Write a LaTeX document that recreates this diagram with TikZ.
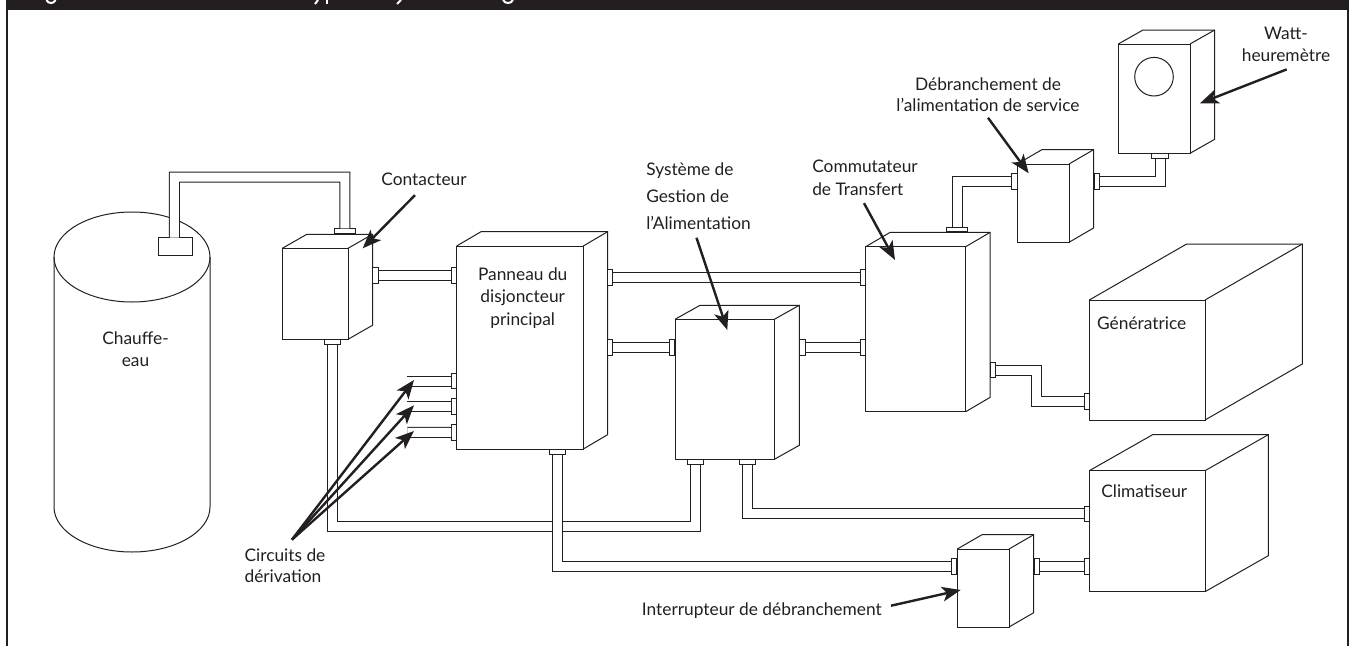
\documentclass[tikz,border=0pt]{standalone}
\usepackage{fontspec}
\setmainfont{Lato}
\usepackage{xcolor}
\usetikzlibrary{shapes.geometric, positioning, arrows.meta}
\definecolor{encre}{HTML}{231F20}
\newcommand{\unite}{0.75pt}
% #1 name, #2 #3 top left of the front, #4 #5 size of the front, #6 #7 depth
\newcommand{\boite}[7]{
\node[face, anchor=north west, minimum width=#4*\unite, minimum height=#5*\unite] (#1) at (#2,#3) {};
\draw[trait] (#1.north west) -- ++(#6,-#7) -- ++(#4,0) -- ++(0,#5) -- (#1.south east);
\draw[trait] (#1.north east) -- ++(#6,-#7);
}
\tikzset{
trait/.style={draw=encre, line width=0.75pt, line join=miter},
face/.style={trait, fill=white, rectangle, inner sep=0pt, outer sep=0pt},
raccordh/.style={trait, fill=white, rectangle, inner sep=0pt, minimum width=3.9pt, minimum height=11.6pt},
raccordv/.style={trait, fill=white, rectangle, inner sep=0pt, minimum width=#1*\unite, minimum height=3.6pt},
raccordv/.default=16.5,
conduit/.style={draw=encre, line width=0.75pt, double=white, double distance=6.75pt, line join=miter},
fleche/.style={draw=encre, line width=1.8pt, -{Stealth[length=14pt,width=11pt,inset=3.5pt]}},
etiq/.style={font=\fontsize{13}{#1}\selectfont, text=encre, inner sep=0pt, align=center},
etiq/.default=17
}
\begin{document}
\begin{tikzpicture}[x=0.75pt,y=-0.75pt]
\useasboundingbox (0,0) rectangle (1349,646);
\fill[white] (0,0) rectangle (1349,646);
\fill[encre] (6,0) rectangle (1349,9.5); % title band, text cut off by the page
\draw[encre, line width=1.5pt] (7,9) -- (7,646);
\draw[encre, line width=1.5pt] (1348,9) -- (1348,646);
\draw[white, line width=1.5pt] (46.5,0) .. controls (48,4) and (54,4) .. (55.5,0);
\draw[white, line width=1.5pt] (318,0) -- (315,4);
\draw[white, line width=1.5pt] (327,0) -- (327,4);
\draw[white, line width=1.5pt] (401,0) -- (397,4);
\draw[white, line width=1.5pt] (503,0) .. controls (505,4) and (511,4) .. (513,0);

% water heater
\node[trait, ellipse, inner sep=0pt, outer sep=0pt, minimum width=156*\unite, minimum height=90*\unite] (chauffe) at (132,257) {};
\draw[trait] (chauffe.west) -- ++(0,250) arc[start angle=180, end angle=0, x radius=78, y radius=45] -- (chauffe.east);
\node[face, minimum width=33.6*\unite, minimum height=18*\unite] (prise) at (175.5,246.7) {};

% boxes
\boite{contact}{282.3}{248.3}{65.7}{91}{24.5}{14}
\boite{panneau}{456.7}{246}{126.6}{203}{24.3}{14.3}
\boite{systeme}{675}{319.3}{99.3}{140}{25}{14}
\boite{commut}{865.7}{246.7}{100}{165}{24.5}{14.4}
\boite{service}{1017.3}{164}{51.7}{78.3}{24.7}{14.4}
\boite{compteur}{1118.3}{44}{71.7}{109.3}{24.7}{14}
\boite{generat}{1089.3}{300}{115.7}{120}{97.3}{56}
\boite{clim}{1089.3}{470.7}{115.7}{121}{63.3}{36}
\boite{interr}{957.3}{549}{51.7}{78}{24.7}{14.3}
\node[trait, circle, inner sep=0pt, minimum size=38.6*\unite] (cadran) at (1154,76.7) {};

% fittings
\node[raccordh] (fContactE) at (375.4,275.5) {};
\node[raccordv=20.5] (fContactN) at (344.85,231.3) {};
\node[raccordv] (fContactS) at (332.5,342.3) {};
\node[raccordh] (fPanneauO) at (453.9,275.5) {};
\node[raccordh] (fPanneauE1) at (610.2,277.3) {};
\node[raccordh] (fPanneauE2) at (610.2,347.5) {};
\node[raccordv] (fPanneauS) at (557.6,452) {};
\node[raccordh] (fBranche1) at (454.2,381) {};
\node[raccordh] (fBranche2) at (454.2,406.3) {};
\node[raccordh] (fBranche3) at (454.2,432.5) {};
\node[raccordh] (fSysO) at (672.2,347.5) {};
\node[raccordh] (fSysE) at (802.5,347.5) {};
\node[raccordv] (fSysS1) at (695.3,462.3) {};
\node[raccordv] (fSysS2) at (747.6,462.3) {};
\node[raccordh] (fCommO1) at (862.8,277.3) {};
\node[raccordh] (fCommO2) at (862.8,347.5) {};
\node[raccordv=20.5] (fCommN) at (957,229.5) {};
\node[raccordh] (fCommE) at (993.3,370) {};
\node[raccordh] (fServO) at (1014.5,181.7) {};
\node[raccordh] (fServE) at (1096.8,181.7) {};
\node[raccordv] (fCompteurS) at (1160,156.3) {};
\node[raccordh] (fGenO) at (1086.7,401.7) {};
\node[raccordh] (fClimO1) at (1086.7,513.9) {};
\node[raccordh] (fClimO2) at (1086.7,566.3) {};
\node[raccordh] (fInterO) at (954.2,566.3) {};
\node[raccordh] (fInterE) at (1036.7,566.3) {};

% bends and free ends
\coordinate (coudeChauffe) at (174.3,177);
\coordinate (coudeContact) at (332.5,526.9);
\coordinate (coudeGen) at (1036.3,386);
\coordinate (branche1) at (407.3,381);
\coordinate (branche2) at (407.3,406.3);
\coordinate (branche3) at (407.3,432.3);

% conduits, the one from the panel goes over the one from the contactor
\draw[conduit] ([xshift=-0.9pt]prise.north) -- (coudeChauffe) -| (fContactN.north);
\draw[conduit] (fContactE.east) -- (fPanneauO.west);
\draw[conduit] (fContactS.south) -- (coudeContact) -| (fSysS1.south);
\draw[conduit] (fPanneauE1.east) -- (fCommO1.west);
\draw[conduit] (fPanneauE2.east) -- (fSysO.west);
\draw[conduit] (fSysE.east) -- (fCommO2.west);
\draw[conduit] (fPanneauS.south) |- (fInterO.west);
\draw[conduit] (fSysS2.south) |- (fClimO1.west);
\draw[conduit] (fInterE.east) -- (fClimO2.west);
\draw[conduit] (fCommN.north) |- (fServO.west);
\draw[conduit] (fServE.east) -| (fCompteurS.south);
\draw[conduit] (fCommE.east) -| (coudeGen) |- (fGenO.west);
\draw[conduit] (fBranche1.west) -- (branche1);
\draw[conduit] (fBranche2.west) -- (branche2);
\draw[conduit] (fBranche3.west) -- (branche3);

% labels
\node[etiq=16.3] (lblChauffe) at (135.5,349) {Chauffe-\\eau};
\node[etiq] (lblContact) at (424,179) {Contacteur};
\node[etiq] (lblPanneau) at (522.7,298) {Panneau du\\disjoncteur\\principal};
\node[etiq=20.3, anchor=west, align=left] (lblSysteme) at (646,196) {Système de\\Gestion de\\l’Alimentation};
\node[etiq=17.3, anchor=west, align=left] (lblCommut) at (812,178) {Commutateur\\de Transfert};
\node[etiq=15.8] (lblService) at (988,94.5) {Débranchement de\\l’alimentation de service};
\node[etiq] (lblCompteur) at (1286,44.5) {Watt-\\heuremètre};
\node[etiq] (lblGenerat) at (1141.7,323) {Génératrice};
\node[etiq] (lblClim) at (1144.3,490.7) {Climatiseur};
\node[etiq, anchor=east] (lblInterr) at (882,610.7) {Interrupteur de débranchement};
\node[etiq=16, anchor=west, align=left] (lblCircuits) at (244.3,566) {Circuits de\\dérivation};

% arrow tips
\coordinate (tipContact) at (362.7,248.3);
\coordinate (tipSysteme) at (727.3,330);
\coordinate (tipCommut) at (895,260);
\coordinate (tipService) at (1028.7,173.3);
\coordinate (tipCompteur) at (1200,103.3);
\coordinate (tipInterr) at (960.7,590);
\coordinate (tipBranche1) at (414,380);
\coordinate (tipBranche2) at (414,405.3);
\coordinate (tipBranche3) at (414,431);

\draw[fleche] ([shift={(-9,9.5)}]lblContact.south) -- (tipContact);
\draw[fleche] ([shift={(-2,8)}]lblSysteme.south) -- (tipSysteme);
\draw[fleche] ([shift={(-1,7)}]lblCommut.south) -- (tipCommut);
\draw[fleche] ([shift={(0,6)}]lblService.south) -- (tipService);
\draw[fleche] ([shift={(0.7,7)}]lblCompteur.south) -- (tipCompteur);
\draw[fleche] ([shift={(9,-5)}]lblInterr.east) -- (tipInterr);
\draw[fleche] ([shift={(7,-9)}]lblCircuits.north) -- (tipBranche1);
\draw[fleche] ([shift={(7,-9)}]lblCircuits.north) -- (tipBranche2);
\draw[fleche] ([shift={(7,-9)}]lblCircuits.north) -- (tipBranche3);
\end{tikzpicture}
\end{document}
